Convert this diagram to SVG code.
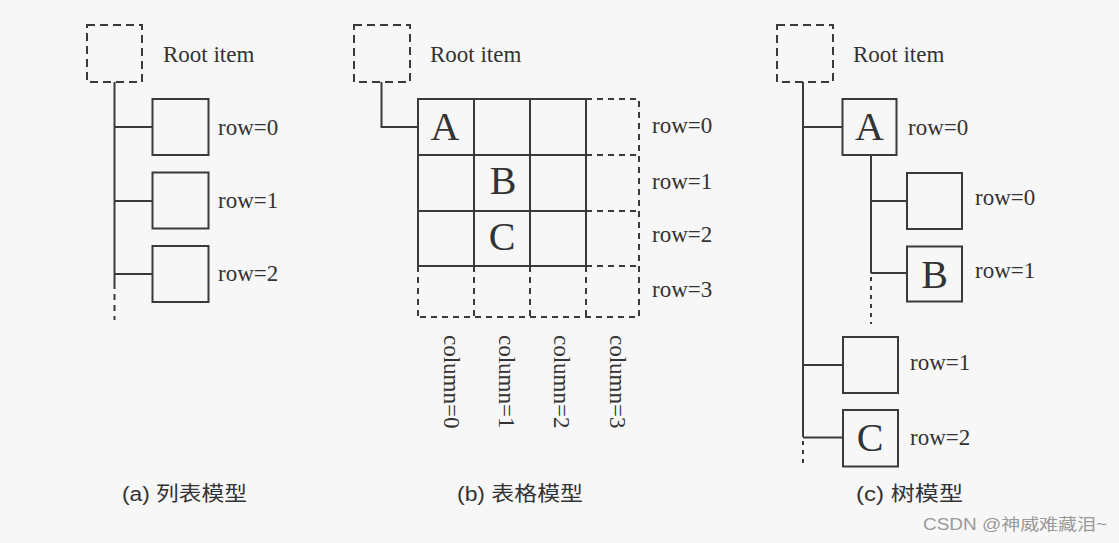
<svg xmlns="http://www.w3.org/2000/svg" width="1119" height="543" viewBox="0 0 1119 543">
<style>
.ln{fill:none;stroke:#3a3a3a;stroke-width:2}
.box{fill:none;stroke:#3a3a3a;stroke-width:2}
.dsh{fill:none;stroke:#3a3a3a;stroke-width:2;stroke-dasharray:8 5}
.dsg{fill:none;stroke:#3a3a3a;stroke-width:2;stroke-dasharray:6 5}
.dot{fill:none;stroke:#3a3a3a;stroke-width:2;stroke-dasharray:4 5}
.lbl{font-family:"Liberation Serif","Times New Roman",serif;font-size:23px;fill:#333}
.big{font-family:"Liberation Serif","Times New Roman",serif;font-size:40px;fill:#333;text-anchor:middle}
.cap{font-family:"Liberation Sans","Noto Sans CJK SC",sans-serif;font-size:20px;fill:#333}
.wm{font-family:"Liberation Sans","Noto Sans CJK SC",sans-serif;font-size:16px;fill:#9a9a9a}
</style>
<rect x="0" y="0" width="1119" height="543" fill="#f7f7f7"/>

<!-- Panel (a) list model -->
<g id="a-root"><rect class="dsh" x="87" y="25" width="55" height="57"/><text class="lbl" x="163" y="62">Root item</text></g>
<g id="a-row0"><rect class="box" x="152.5" y="99" width="56" height="56"/><text class="lbl" x="218" y="135">row=0</text></g>
<g id="a-row1"><rect class="box" x="152.5" y="172.5" width="56" height="56"/><text class="lbl" x="218" y="208">row=1</text></g>
<g id="a-row2"><rect class="box" x="152.5" y="246" width="56" height="56"/><text class="lbl" x="218" y="281">row=2</text></g>

<!-- Panel (b) table model -->
<g id="b-root"><rect class="dsh" x="354" y="25" width="56" height="57"/><text class="lbl" x="430" y="62">Root item</text></g>
<g id="b-grid">
<rect class="box" x="418" y="99" width="168" height="167"/>
<path class="ln" d="M474 99V266M530 99V266M418 155H586M418 211H586"/>
<path class="dsg" d="M586 99H639V317H418M586 155H639M586 211H639M586 266H639M418 266V317M474 266V317M530 266V317M586 266V317"/>
</g>
<g id="b-A"><text class="big" x="445" y="140">A</text></g>
<g id="b-B"><text class="big" x="503" y="194">B</text></g>
<g id="b-C"><text class="big" x="502" y="250">C</text></g>
<g id="b-rows">
<text class="lbl" x="652" y="133">row=0</text>
<text class="lbl" x="652" y="189">row=1</text>
<text class="lbl" x="652" y="242">row=2</text>
<text class="lbl" x="652" y="297">row=3</text>
</g>
<g id="b-cols">
<text class="lbl" transform="translate(444,335) rotate(90)">column=0</text>
<text class="lbl" transform="translate(499,335) rotate(90)">column=1</text>
<text class="lbl" transform="translate(554,335) rotate(90)">column=2</text>
<text class="lbl" transform="translate(610,335) rotate(90)">column=3</text>
</g>

<!-- Panel (c) tree model -->
<g id="c-root"><rect class="dsh" x="777" y="25" width="56" height="57"/><text class="lbl" x="853" y="62">Root item</text></g>
<g id="c-A"><rect class="box" x="842.5" y="99" width="54" height="56"/><text class="big" x="869.5" y="140">A</text><text class="lbl" x="908" y="135">row=0</text></g>
<g id="c-A0"><rect class="box" x="907" y="173" width="55" height="56"/><text class="lbl" x="975" y="205">row=0</text></g>
<g id="c-B"><rect class="box" x="907" y="246.5" width="55" height="55"/><text class="big" x="934.5" y="288">B</text><text class="lbl" x="975" y="278">row=1</text></g>
<g id="c-row1"><rect class="box" x="843" y="337" width="55" height="56"/><text class="lbl" x="910" y="370">row=1</text></g>
<g id="c-C"><rect class="box" x="843" y="410" width="55" height="56.5"/><text class="big" x="870" y="451">C</text><text class="lbl" x="910" y="445">row=2</text></g>

<!-- connectors -->
<g id="connectors">
<path class="ln" d="M114.5 82V283M114.5 127H152.5M114.5 201H152.5M114.5 274H152.5"/>
<path class="dsg" d="M114.5 283V320"/>
<path class="ln" d="M381.5 82V127H418"/>
<path class="ln" d="M803 82V437M803 127H842.5M803 365H843M803 437.5H843"/>
<path class="dot" d="M803 441V466"/>
<path class="ln" d="M871 155V273M871 201H907M871 273H907"/>
<path class="dot" d="M871 277V324"/>
</g>

<!-- captions -->
<g id="captions">
<text class="cap" x="122" y="501" textLength="125" lengthAdjust="spacingAndGlyphs">(a) 列表模型</text>
<text class="cap" x="457" y="501" textLength="126" lengthAdjust="spacingAndGlyphs">(b) 表格模型</text>
<text class="cap" x="856" y="501" textLength="107" lengthAdjust="spacingAndGlyphs">(c) 树模型</text>
<text class="wm" x="923" y="530" textLength="184" lengthAdjust="spacingAndGlyphs">CSDN @神威难藏泪~</text>
</g>
</svg>
